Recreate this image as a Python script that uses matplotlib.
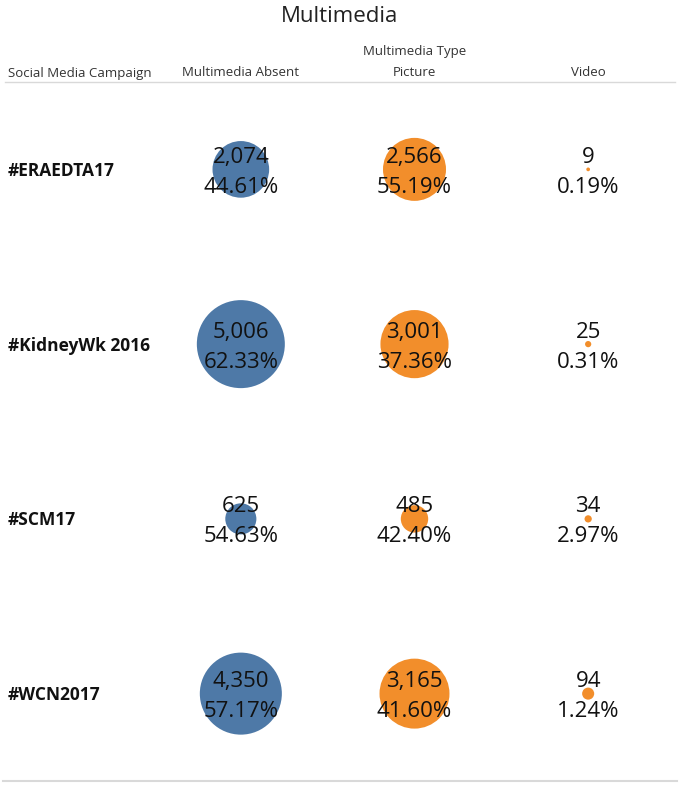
import matplotlib
matplotlib.use("Agg")
import matplotlib.pyplot as plt
import matplotlib.transforms as mtransforms
import numpy as np

campaigns = ["#ERAEDTA17", "#KidneyWk 2016", "#SCM17", "#WCN2017"]
types = ["Multimedia Absent", "Picture", "Video"]
absent = [2074, 5006, 625, 4350]
picture = [2566, 3001, 485, 3165]
video = [9, 25, 34, 94]
absent_pct = [44.61, 62.33, 54.63, 57.17]
picture_pct = [55.19, 37.36, 42.40, 41.60]
video_pct = [0.19, 0.31, 2.97, 1.24]

colors = ["#4e79a7", "#f28e2b", "#f28e2b"]
plt.rcParams['font.family'] = ['Open Sans', 'DejaVu Sans']

W, H = 680, 785
fig = plt.figure(figsize=(W / 100, H / 100), dpi=100)
ax = fig.add_axes([154 / W, 1 - 781 / H, 521 / W, 699 / H])
ax.set_xlim(-0.5, 2.5)
ax.set_ylim(3.5, -0.5)
ax.axis("off")

counts = [absent, picture, video]
pcts = [absent_pct, picture_pct, video_pct]
maxv = max(max(c) for c in counts)
rmax_pt = 44 * 0.72
off1 = mtransforms.offset_copy(ax.transData, fig=fig, x=0, y=6.5, units='dots')
off2 = mtransforms.offset_copy(ax.transData, fig=fig, x=0, y=-23.5, units='dots')
for j, (cnt, pc) in enumerate(zip(counts, pcts)):
    x = np.full(len(campaigns), j)
    y = np.arange(len(campaigns))
    s = (2 * rmax_pt) ** 2 * np.array(cnt) / maxv
    ax.scatter(x, y, s=s, color=colors[j], linewidths=0, zorder=1)
    for i in range(len(campaigns)):
        ax.text(j, i, f"{cnt[i]:,}", transform=off1, ha='center', va='baseline',
                fontsize=16, color='#111111', zorder=2)
        ax.text(j, i, f"{pc[i]:.2f}%", transform=off2, ha='center', va='baseline',
                fontsize=16, color='#111111', zorder=2)

blend = mtransforms.blended_transform_factory(fig.transFigure, ax.transData)
blend_off = mtransforms.offset_copy(blend, fig=fig, x=0, y=-6.5, units='dots')
for i, c in enumerate(campaigns):
    ax.text(8 / W, i, c, transform=blend_off, ha='left', va='baseline',
            fontsize=12.5, fontweight='bold', color='#111111')

fig.text(340 / W, 1 - 16 / H, "Multimedia", ha='center', va='center', fontsize=16, color='#222222')
fig.text(415 / W, 1 - 51 / H, "Multimedia Type", ha='center', va='center', fontsize=9.5, color='#333333')
fig.text(8 / W, 1 - 73 / H, "Social Media Campaign", ha='left', va='center', fontsize=9.5, color='#333333')
for j, t in enumerate(types):
    xp = ax.transData.transform((j, 0))[0]
    fig.text(xp / W, 1 - 73 / H, t, ha='center', va='center', fontsize=9.5, color='#333333')

fig.add_artist(plt.Line2D([5 / W, 675 / W], [1 - 82 / H, 1 - 82 / H], color='#d9d9d9', lw=1))
fig.add_artist(plt.Line2D([3 / W, 677 / W], [1 - 781 / H, 1 - 781 / H], color='#d9d9d9', lw=1.5))

fig.savefig("out.png", dpi=100)
